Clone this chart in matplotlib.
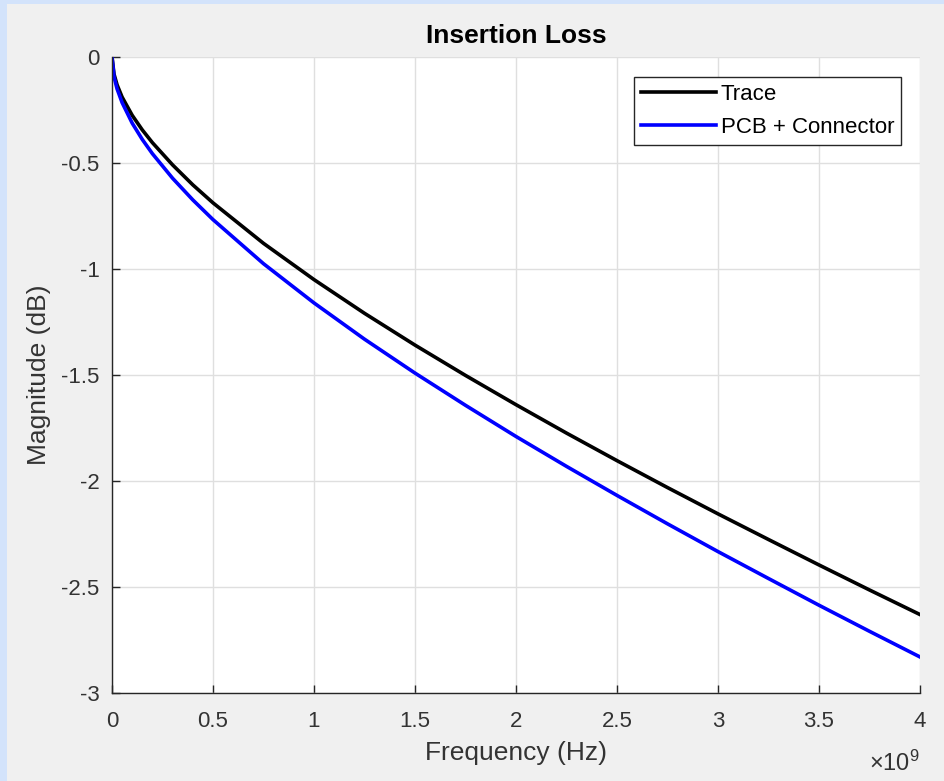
import matplotlib
matplotlib.use('Agg')
import matplotlib.pyplot as plt
from matplotlib.patches import Rectangle

# frequency points (GHz) and insertion loss (dB)
freq_ghz = [0, 0.01, 0.025, 0.05, 0.1, 0.15, 0.2, 0.3, 0.4, 0.5, 0.75, 1.0,
            1.25, 1.5, 1.75, 2.0, 2.25, 2.5, 2.75, 3.0, 3.25, 3.5, 3.75, 4.0]
trace_db = [0, -0.081, -0.131, -0.189, -0.275, -0.344, -0.404, -0.509, -0.603,
            -0.688, -0.879, -1.05, -1.209, -1.359, -1.502, -1.640, -1.774,
            -1.904, -2.031, -2.155, -2.276, -2.396, -2.514, -2.63]
pcb_db = [0, -0.093, -0.150, -0.215, -0.312, -0.389, -0.456, -0.572, -0.674,
          -0.767, -0.975, -1.16, -1.331, -1.491, -1.643, -1.790, -1.931,
          -2.068, -2.202, -2.333, -2.460, -2.586, -2.709, -2.83]

xticks = [0, 0.5, 1, 1.5, 2, 2.5, 3, 3.5, 4]
xtick_labels = ['0', '0.5', '1', '1.5', '2', '2.5', '3', '3.5', '4']
yticks = [0, -0.5, -1, -1.5, -2, -2.5, -3]
ytick_labels = ['0', '-0.5', '-1', '-1.5', '-2', '-2.5', '-3']

plt.rcParams['font.family'] = ['Liberation Sans', 'DejaVu Sans']
plt.rcParams['mathtext.fontset'] = 'custom'
plt.rcParams['mathtext.rm'] = 'Liberation Sans'
plt.rcParams['axes.unicode_minus'] = False

txt = '#333333'
W, H = 945, 781
fig = plt.figure(figsize=(9.45, 7.81), dpi=100, facecolor='#f0f0f0')
# screenshot border (blue strip left and top)
fig.patches.append(Rectangle((0, 0), 7 / W, 1, transform=fig.transFigure,
                             facecolor='#d3e3fb', edgecolor='none', zorder=-1))
fig.patches.append(Rectangle((0, 1 - 4 / H), 1, 4 / H, transform=fig.transFigure,
                             facecolor='#d3e3fb', edgecolor='none', zorder=-1))

ax = fig.add_axes([112 / W, 1 - 693 / H, 808 / W, 636 / H])
x_hz = [f * 1e9 for f in freq_ghz]
ax.plot(x_hz, trace_db, color='black', lw=2.6, label='Trace')
ax.plot(x_hz, pcb_db, color='#0000ff', lw=2.6, label='PCB + Connector')

ax.set_xlim(0, 4e9)
ax.set_ylim(-3, 0)
ax.set_xticks([t * 1e9 for t in xticks])
ax.set_xticklabels(xtick_labels)
ax.set_yticks(yticks)
ax.set_yticklabels(ytick_labels)

ax.grid(True, color='#dfdfdf', lw=1)
ax.set_axisbelow(True)
for s in ['top', 'right']:
    ax.spines[s].set_visible(False)
for s in ['left', 'bottom']:
    ax.spines[s].set_color('#262626')
    ax.spines[s].set_linewidth(1)
ax.tick_params(direction='in', length=6, width=1, color='#262626',
               labelcolor=txt, labelsize=16)
ax.tick_params(axis='x', pad=13)
ax.tick_params(axis='y', pad=9)

ax.set_title('Insertion Loss', fontsize=19, fontweight='bold', color='black', pad=10)
ax.set_xlabel('Frequency (Hz)', fontsize=19, color=txt)
ax.set_ylabel('Magnitude (dB)', fontsize=19, color=txt)
ax.xaxis.set_label_coords(0.5, -0.075)
ax.yaxis.set_label_coords(-0.075, 0.5)

ax.text(1.0, -0.13, r'$\times\mathregular{10^{9}}$', transform=ax.transAxes,
        ha='right', va='bottom', fontsize=17, color=txt)

leg = ax.legend(loc='upper right', bbox_to_anchor=(0.9765, 0.9686),
                borderaxespad=0, fontsize=16, handlelength=3.4,
                handletextpad=0.2, labelspacing=0.55, borderpad=0.3,
                fancybox=False, framealpha=1, edgecolor='#262626')
leg.get_frame().set_linewidth(1)

fig.savefig('out.png', dpi=100, facecolor=fig.get_facecolor())
